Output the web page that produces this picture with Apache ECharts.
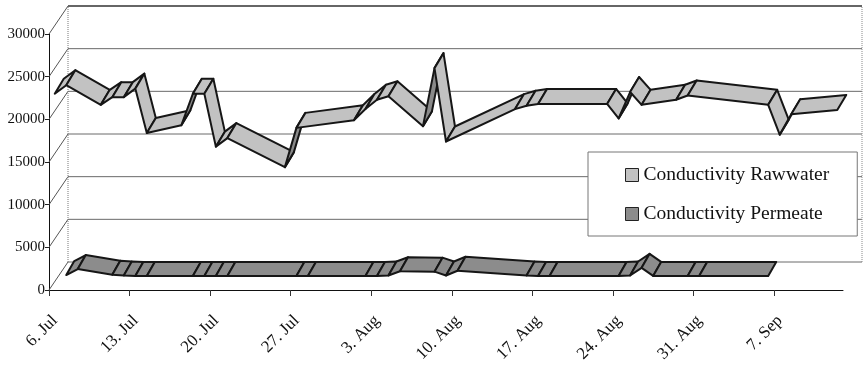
<!DOCTYPE html>
<html>
<head>
<meta charset="utf-8">
<script src="https://cdn.jsdelivr.net/npm/echarts@6/dist/echarts.min.js"></script>
<style>
  html, body { margin: 0; padding: 0; background: #fff; }
  #chart { width: 867px; height: 371px; }
</style>
</head>
<body>
<div id="chart"></div>
<script>
// ---- data -------------------------------------------------------------
const axisStart = '07-06';   // first day on the date axis
const axisDays = 69;         // 6 Jul .. 13 Sep
const weekTickDays = [0, 7, 14, 21, 28, 35, 42, 49, 56, 63];
const weekTickLabels = ['6. Jul', '13. Jul', '20. Jul', '27. Jul', '3. Aug',
                        '10. Aug', '17. Aug', '24. Aug', '31. Aug', '7. Sep'];
const valueTicks = [0, 5000, 10000, 15000, 20000, 25000, 30000];

const rawDates = ['07-06', '07-07', '07-10', '07-11', '07-12', '07-13', '07-14',
                  '07-17', '07-18', '07-19', '07-20', '07-21', '07-26', '07-27',
                  '08-01', '08-02', '08-03', '08-04', '08-07', '08-08', '08-09',
                  '08-15', '08-16', '08-17', '08-23', '08-24', '08-25', '08-26',
                  '08-29', '08-30', '09-06', '09-07', '09-08', '09-12'];
const rawValues = [23000, 24000, 21700, 22600, 22600, 23600, 18400,
                   19300, 23000, 23000, 16800, 17800, 14400, 19000,
                   19900, 21200, 22300, 22700, 19200, 26000, 17400,
                   21200, 21600, 21800, 21800, 20100, 23200, 21700,
                   22300, 22800, 21700, 18200, 20600, 21100];

const permDates = ['07-07', '07-08', '07-11', '07-12', '07-13', '07-14',
                   '07-18', '07-19', '07-20', '07-21', '07-27', '07-28',
                   '08-02', '08-03', '08-04', '08-05', '08-08', '08-09', '08-10',
                   '08-16', '08-17', '08-18', '08-24', '08-25', '08-26', '08-27',
                   '08-30', '08-31', '09-06'];
const permValues = [1750, 2450, 1800, 1700, 1650, 1650,
                    1650, 1650, 1650, 1650, 1650, 1650,
                    1650, 1650, 1700, 2200, 2150, 1700, 2250,
                    1700, 1650, 1650, 1650, 1700, 2600, 1650,
                    1650, 1650, 1650];

// ---- helpers ----------------------------------------------------------
function dayOf(md) {
  const [m, d] = md.split('-').map(Number);
  const [m0, d0] = axisStart.split('-').map(Number);
  return Math.round((Date.UTC(2001, m - 1, d) - Date.UTC(2001, m0 - 1, d0)) / 86400000);
}
// each day occupies one slot on the axis; the point sits in the middle of it
function toPoints(dates, values) {
  return dates.map((md, i) => [dayOf(md) + 0.5, values[i]]);
}
const rawPoints = toPoints(rawDates, rawValues);
const permPoints = toPoints(permDates, permValues);

const BOX_DEPTH = [19, -28];     // oblique shift from front plane to back wall
const SERIF = '"Liberation Serif", "Times New Roman", serif';

// ribbon segment between point i and i+1, shaded by which side faces us
function ribbon(points, depth, topFill, underFill) {
  return function (params, api) {
    const i = params.dataIndex;
    if (i >= points.length - 1) return null;
    const a = api.coord(points[i]);
    const b = api.coord(points[i + 1]);
    const a2 = [a[0] + depth[0], a[1] + depth[1]];
    const b2 = [b[0] + depth[0], b[1] + depth[1]];
    const cross = (b[0] - a[0]) * depth[1] - (b[1] - a[1]) * depth[0];
    return {
      type: 'polygon',
      shape: { points: [a, b, b2, a2] },
      style: {
        fill: cross < 0 ? topFill : underFill,
        stroke: '#161616',
        lineWidth: 2,
        lineJoin: 'round'
      }
    };
  };
}

// back wall, left wall diagonals and walls' vertical edges
function frame(params, api) {
  const kids = [];
  const dx = BOX_DEPTH[0], dy = BOX_DEPTH[1];
  const top = valueTicks[valueTicks.length - 1];
  valueTicks.forEach(v => {
    const l = api.coord([0, v]);
    const r = api.coord([axisDays, v]);
    kids.push({ type: 'line',
      shape: { x1: l[0] + dx, y1: l[1] + dy, x2: r[0] + dx, y2: r[1] + dy },
      style: { stroke: v === top ? '#333' : '#6a6a6a', lineWidth: v === top ? 1.6 : 1 } });
    kids.push({ type: 'line',
      shape: { x1: l[0], y1: l[1], x2: l[0] + dx, y2: l[1] + dy },
      style: { stroke: '#555', lineWidth: 1 } });
  });
  const lb = api.coord([0, 0]), lt = api.coord([0, top]);
  const rb = api.coord([axisDays, 0]), rt = api.coord([axisDays, top]);
  kids.push({ type: 'line',
    shape: { x1: lb[0] + dx, y1: lb[1] + dy, x2: lt[0] + dx, y2: lt[1] + dy },
    style: { stroke: '#777', lineWidth: 1, lineDash: [1, 1] } });
  kids.push({ type: 'line',
    shape: { x1: rb[0] + dx, y1: rb[1] + dy, x2: rt[0] + dx, y2: rt[1] + dy },
    style: { stroke: '#888', lineWidth: 1, lineDash: [1, 1] } });
  return { type: 'group', children: kids };
}

const chart = echarts.init(document.getElementById('chart'), null, { renderer: 'canvas' });
chart.setOption({
  animation: false,
  backgroundColor: '#fff',
  grid: { left: 49, right: 24, top: 34, bottom: 81, containLabel: false },
  xAxis: {
    type: 'value', min: 0, max: axisDays,
    axisLine: { show: true, lineStyle: { color: '#111', width: 1 } },
    axisTick: { show: true, length: 6, customValues: weekTickDays, lineStyle: { color: '#333' } },
    axisLabel: {
      customValues: weekTickDays,
      rotate: 45, margin: 22, verticalAlign: 'top',
      fontFamily: SERIF, fontSize: 17, color: '#111',
      formatter: v => weekTickLabels[weekTickDays.indexOf(v)] || ''
    },
    splitLine: { show: false }
  },
  yAxis: {
    type: 'value', min: 0, max: 30000, interval: 5000,
    axisLine: { show: true, lineStyle: { color: '#111', width: 1 } },
    axisTick: { show: true, length: 4, lineStyle: { color: '#222' } },
    axisLabel: { margin: 4, fontFamily: SERIF, fontSize: 15, color: '#111',
                 formatter: v => String(v) },
    splitLine: { show: false }
  },
  legend: {
    data: ['Conductivity Rawwater', 'Conductivity Permeate'],
    orient: 'vertical', left: 588, top: 152,
    padding: [13, 28, 12, 37], itemGap: 19,
    itemWidth: 13, itemHeight: 13, icon: 'rect',
    backgroundColor: '#fff', borderColor: '#777', borderWidth: 1,
    textStyle: { fontFamily: SERIF, fontSize: 19.5, color: '#111' },
    itemStyle: { borderColor: '#222', borderWidth: 1 }
  },
  series: [
    {
      type: 'custom', name: 'frame', silent: true, z: 1,
      renderItem: frame, data: [[0, 0]]
    },
    {
      type: 'custom', name: 'Conductivity Permeate', z: 3,
      itemStyle: { color: '#8c8c8c', borderColor: '#222', borderWidth: 1 },
      renderItem: ribbon(permPoints, [8, -14], '#8c8c8c', '#555555'),
      data: permPoints
    },
    {
      type: 'custom', name: 'Conductivity Rawwater', z: 3,
      itemStyle: { color: '#c2c2c2', borderColor: '#222', borderWidth: 1 },
      renderItem: ribbon(rawPoints, [9, -15], '#c2c2c2', '#8a8a8a'),
      data: rawPoints
    }
  ]
});
</script>
</body>
</html>
